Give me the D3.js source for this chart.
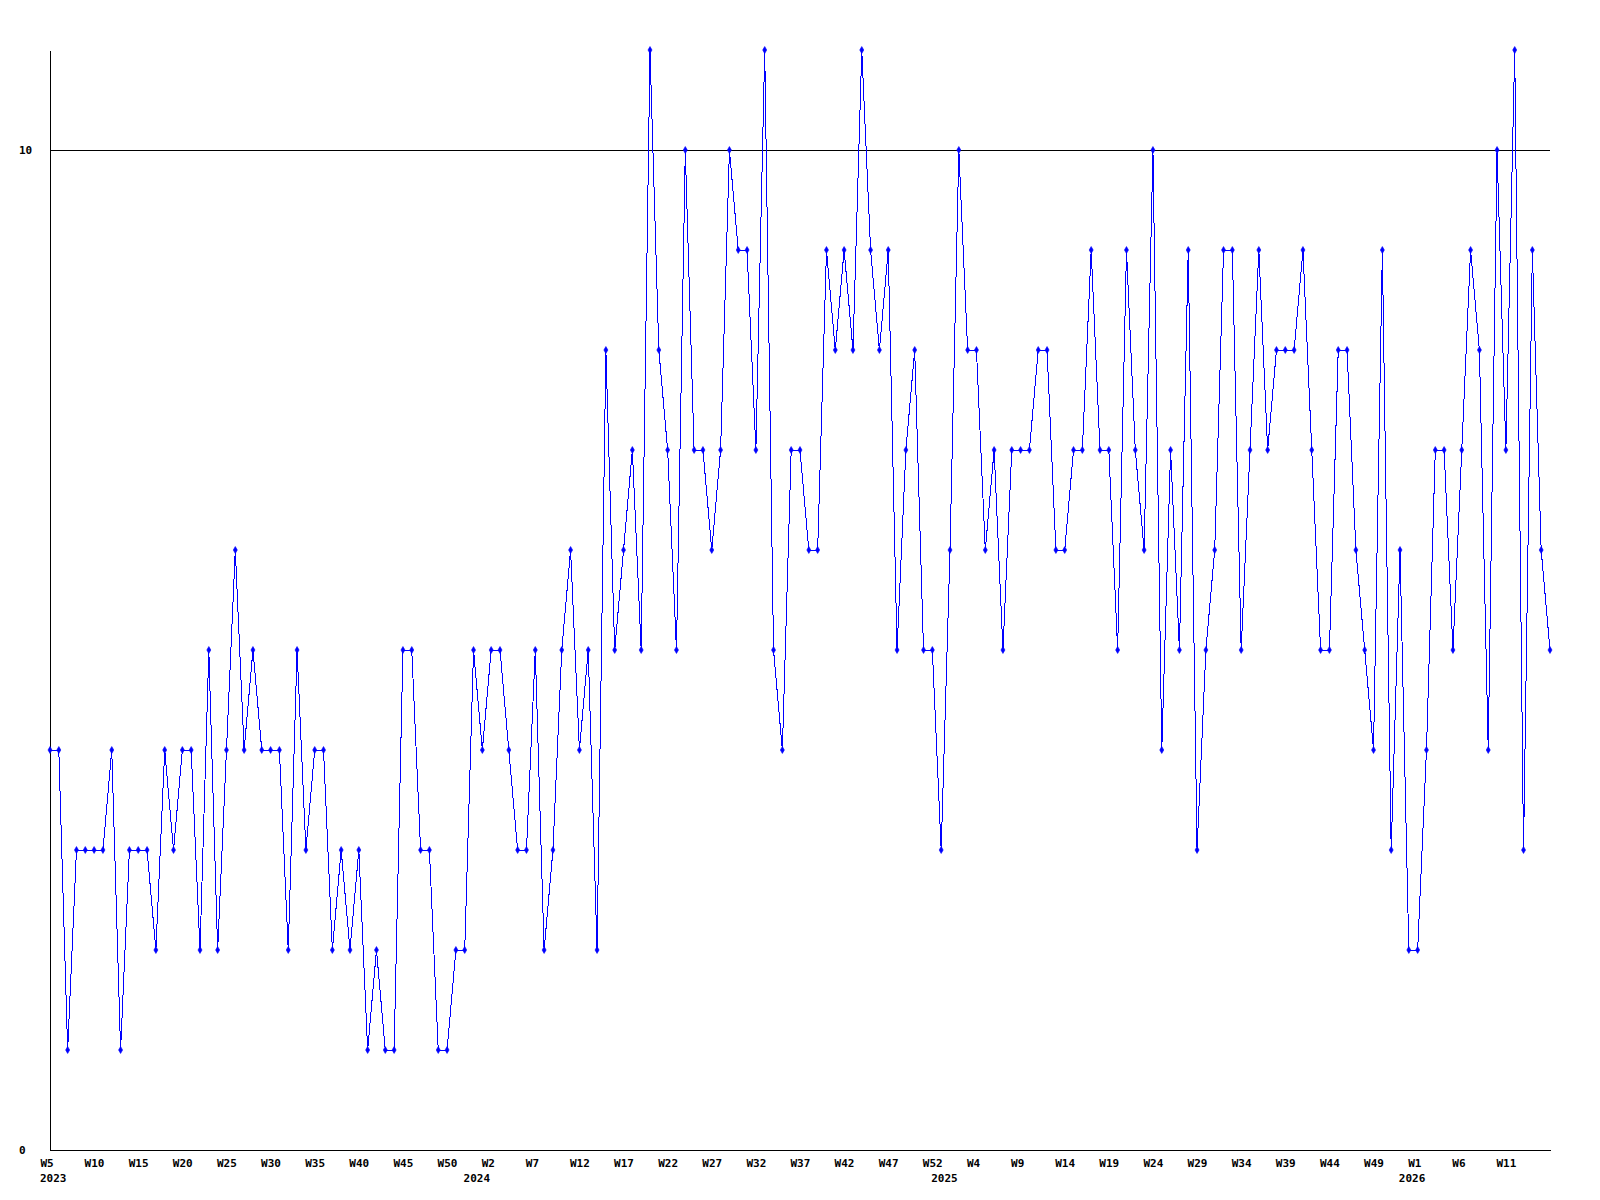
<!DOCTYPE html>
<html>
<head>
<meta charset="utf-8">
<script src="https://cdn.jsdelivr.net/npm/d3@7"></script>
<style>
  html, body { margin: 0; padding: 0; background: #ffffff; }
  svg { display: block; }
  .lbl { font-family: "DejaVu Sans Mono", "Liberation Mono", monospace; font-weight: bold; font-size: 11px; fill: #000; }
</style>
</head>
<body>
<svg id="chart" width="1600" height="1200"></svg>
<script>
// ---- data ----
const values = [
  4,4,1,3,3,3,3,4,1,3,
  3,3,2,4,3,4,4,2,5,2,
  4,6,4,5,4,4,4,2,5,3,
  4,4,2,3,2,3,1,2,1,1,
  5,5,3,3,1,1,2,2,5,4,
  5,5,4,3,3,5,2,3,5,6,
  4,5,2,8,5,6,7,5,11,8,
  7,5,10,7,7,6,7,10,9,9,
  7,11,5,4,7,7,6,6,9,8,
  9,8,11,9,8,9,5,7,8,5,
  5,3,6,10,8,8,6,7,5,7,
  7,7,8,8,6,6,7,7,9,7,
  7,5,9,7,6,10,4,7,5,9,
  3,5,6,9,9,5,7,9,7,8,
  8,8,9,7,5,5,8,8,6,5,
  4,9,3,6,2,2,4,7,7,5,
  7,9,8,4,10,7,11,3,9,6,
  5
];
const tickLabels = [
  "W5","W10","W15","W20","W25","W30","W35","W40","W45","W50",
  "W2","W7","W12","W17","W22","W27","W32","W37","W42","W47","W52",
  "W4","W9","W14","W19","W24","W29","W34","W39","W44","W49",
  "W1","W6","W11"
];
const tickEvery = 5;
const yearLabels = ["2023","2024","2025","2026"];
const yearLabelIndex = [0, 48, 101, 154];
const yTickValues = [0, 10];
const refLineValue = 10;
const yMax = 11;

// ---- layout ----
const svg = d3.select("#chart");
const mLeft = 50, mRight = 1550, mTop = 50, mBottom = 1150;

const x = d3.scaleLinear().domain([0, values.length - 1]).range([mLeft, mRight]);
const y = d3.scaleLinear().domain([0, yMax]).range([mBottom, mTop]);

// reference line at 10
svg.append("line")
  .attr("x1", mLeft).attr("x2", mRight)
  .attr("y1", Math.round(y(refLineValue)) + 0.5)
  .attr("y2", Math.round(y(refLineValue)) + 0.5)
  .attr("stroke", "#000").attr("stroke-width", 1)
  .attr("shape-rendering", "crispEdges");

// x axis
const tickIdx = tickLabels.map((_, k) => k * tickEvery);
const xAxis = d3.axisBottom(x)
  .tickValues(tickIdx)
  .tickFormat((d, i) => tickLabels[i])
  .tickSizeInner(0).tickSizeOuter(0).tickPadding(0);
const gx = svg.append("g").attr("transform", `translate(0,${mBottom})`).call(xAxis);
gx.select(".domain").attr("stroke", "#000").attr("shape-rendering", "crispEdges");
gx.selectAll(".tick text")
  .attr("class", "lbl")
  .attr("text-anchor", "start")
  .attr("dx", -10)
  .attr("dy", null)
  .attr("y", 17);

// year labels
svg.append("g").selectAll("text")
  .data(yearLabels)
  .join("text")
  .attr("class", "lbl")
  .attr("x", (d, i) => x(yearLabelIndex[i]) - 10)
  .attr("y", mBottom + 31.5)
  .text(d => d);

// y axis
const yAxis = d3.axisLeft(y)
  .tickValues(yTickValues)
  .tickFormat(d3.format("d"))
  .tickSizeInner(0).tickSizeOuter(0).tickPadding(0);
const gy = svg.append("g").attr("transform", `translate(${mLeft},0)`).call(yAxis);
gy.select(".domain").attr("stroke", "#000").attr("shape-rendering", "crispEdges");
gy.selectAll(".tick text")
  .attr("class", "lbl")
  .attr("text-anchor", "start")
  .attr("x", -31)
  .attr("dy", "0.36em");

// series line
const line = d3.line().x((d, i) => x(i)).y(d => y(d));
svg.append("path")
  .datum(values)
  .attr("d", line)
  .attr("fill", "none")
  .attr("stroke", "#0000ff")
  .attr("stroke-width", 1)
  .attr("shape-rendering", "crispEdges");

// markers
const marker = d3.symbol().type(d3.symbolDiamond).size(14);
svg.append("g").selectAll("path")
  .data(values)
  .join("path")
  .attr("transform", (d, i) => `translate(${x(i)},${y(d)})`)
  .attr("d", marker)
  .attr("fill", "#0000ff")
  .attr("stroke", "#0000ff")
  .attr("stroke-width", 0.6);
</script>
</body>
</html>
